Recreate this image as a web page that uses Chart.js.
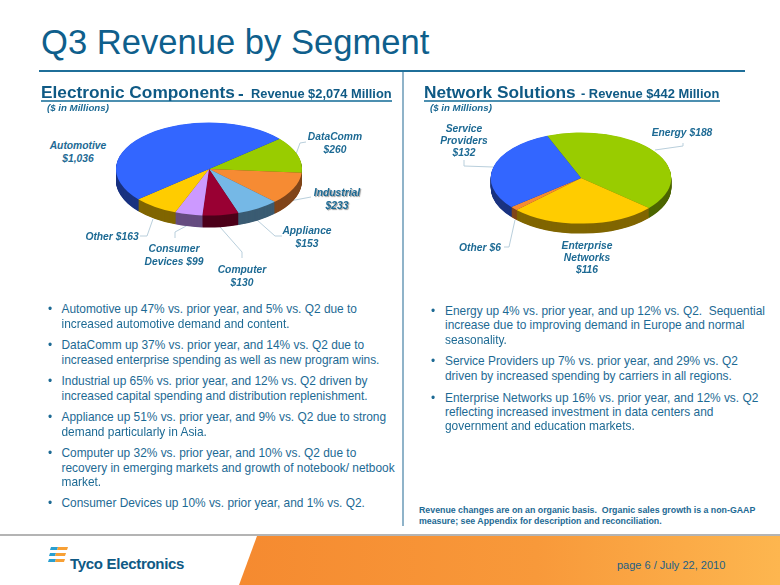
<!DOCTYPE html>
<html><head><meta charset="utf-8">
<script src="https://cdn.jsdelivr.net/npm/chart.js@4/dist/chart.umd.min.js"></script>
<style>
html,body{margin:0;padding:0;background:#fff}
#page{position:relative;width:780px;height:585px;overflow:hidden;font-family:"Liberation Sans",Arial,sans-serif;color:#1d6a94}
#page div.t{position:absolute;white-space:pre;line-height:1}
canvas{position:absolute}
svg{position:absolute;left:0;top:0}
</style></head><body>
<div id="page">
<svg width="780" height="585" id="art">
 <defs><linearGradient id="og" x1="0" x2="1" y1="0" y2="0"><stop offset="0" stop-color="#f58a30"/><stop offset="0.55" stop-color="#f8993a"/><stop offset="1" stop-color="#fdb64f"/></linearGradient></defs>
 <rect x="39" y="70" width="706" height="2" fill="#1f6f99"/>
 <rect x="402" y="72" width="2" height="454" fill="#8fb3c9"/>
 <rect x="0" y="534" width="780" height="2" fill="#b4b4b4"/>
 <polygon points="257,536 780,536 780,585 239,585" fill="url(#og)"/>
 <rect x="41" y="100" width="351" height="2" fill="#4c8fb0"/>
 <rect x="424" y="100" width="296" height="2" fill="#4c8fb0"/>
 <g fill="#2a9fd0">
  <polygon points="51,547 58,547 57,550 50,550"/><polygon points="50,553 56,553 55,556 49,556"/><polygon points="49,559 56,559 55,562 48,562"/>
 </g>
 <g fill="#f7a035">
  <polygon points="58,547 68,547 67,550 57,550"/><polygon points="56,553 66,553 65,556 55,556"/><polygon points="56,559 65,559 64,562 55,562"/>
 </g>
 <g id="leaders" fill="none" stroke="#b9cfdc" stroke-width="1"></g>
</svg>
<canvas id="pieA" width="200" height="200" style="left:109px;top:69px;width:200px;height:200px"></canvas>
<canvas id="pieB" width="200" height="200" style="left:481px;top:78px;width:200px;height:200px"></canvas>
</div>
<script>
const ecCategories = ['DataComm','Industrial','Appliance','Computer','Consumer Devices','Other','Automotive'];
const ecValues = [260,233,153,130,99,163,1036];
const ecColors = ['#99cc00','#f68b33','#75b8e6','#990033','#cc99ff','#ffcc00','#3366ff'];
const ecSides = ['#4d6600','#80451a','#3b5c73','#4d001a','#664d80','#806600','#1a3380'];
const nsCategories = ['Energy','Enterprise Networks','Other','Service Providers'];
const nsValues = [188,116,6,132];
const nsColors = ['#99cc00','#ffcc00','#f68b33','#3366ff'];
const nsSides = ['#4d6600','#806600','#80451a','#1a3380'];

const page = document.getElementById('page');
function text(str, x, y, css, anchor) {
  const d = document.createElement('div');
  d.className = 't';
  d.textContent = str;
  d.style.cssText = 'left:'+x+'px;top:'+y+'px;'+css+(anchor==='c'?';transform:translate(-50%,-50%)':';transform:translateY(-50%)');
  page.appendChild(d);
}
text('Q3 Revenue by Segment', 41, 42, 'font-size:34.6px;color:#0f5f8c');
const hb='font-weight:bold;color:#0f5a85;';
text('Electronic Components', 41, 93, hb+'font-size:17.3px');
text('-', 238, 93, hb+'font-size:17px');
text('Revenue $2,074 Million', 251, 94, hb+'font-size:12.85px');
text('Network Solutions', 424, 93, hb+'font-size:17.3px');
text('- Revenue $442 Million', 581, 94, hb+'font-size:12.9px');
const unit='font-weight:bold;font-style:italic;font-size:9.7px;color:#1d6a94';
text('($ in Millions)', 47, 108, unit);
text('($ in Millions)', 430, 108, unit);

const lab='font-weight:bold;font-style:italic;font-size:10.3px;color:#1d6a94';
[['Automotive',78,146],['$1,036',78,159],['DataComm',335,137],['$260',335,150],
 ['Industrial',337,193],['$233',337,206],['Appliance',307,231],['$153',307,244],
 ['Other $163',112,237],['Consumer',174,249],['Devices $99',174,262],['Computer',242,270],['$130',242,283],
 ['Service',464,129],['Providers',464,141],['$132',464,153],['Energy $188',682,133],['Other $6',480,248],
 ['Enterprise',587,246],['Networks',587,258],['$116',587,270]
].forEach(l=>text(l[0],l[1],l[2],lab+(l[0]==='Industrial'||l[0]==='$233'?';text-shadow:1px 1px 1px #999':''),'c'));

const bodyCss='font-size:11.9px;color:#1d6a94';
[['Automotive up 47% vs. prior year, and 5% vs. Q2 due to',310,1],['increased automotive demand and content.',324.5],
 ['DataComm up 37% vs. prior year, and 14% vs. Q2 due to',346,1],['increased enterprise spending as well as new program wins.',360.5],
 ['Industrial up 65% vs. prior year, and 12% vs. Q2 driven by',382,1],['increased capital spending and distribution replenishment.',396.5],
 ['Appliance up 51% vs. prior year, and 9% vs. Q2 due to strong',418,1],['demand particularly in Asia.',432.5],
 ['Computer up 32% vs. prior year, and 10% vs. Q2 due to',454,1],['recovery in emerging markets and growth of notebook/ netbook',468.5],['market.',482.5],
 ['Consumer Devices up 10% vs. prior year, and 1% vs. Q2.',504,1]
].forEach(l=>{text(l[0],61.5,l[1],bodyCss); if(l[2]) text('•',48,l[1],bodyCss);});
[['Energy up 4% vs. prior year, and up 12% vs. Q2.  Sequential',312,1],['increase due to improving demand in Europe and normal',326],['seasonality.',340.5],
 ['Service Providers up 7% vs. prior year, and 29% vs. Q2',362,1],['driven by increased spending by carriers in all regions.',376.5],
 ['Enterprise Networks up 16% vs. prior year, and 12% vs. Q2',398.5,1],['reflecting increased investment in data centers and',412.5],['government and education markets.',426.5]
].forEach(l=>{text(l[0],445,l[1],bodyCss); if(l[2]) text('•',431,l[1],bodyCss);});

const fn='font-weight:bold;font-size:8.8px;color:#1d6a94';
text('Revenue changes are on an organic basis.  Organic sales growth is a non-GAAP',419,510,fn);
text('measure; see Appendix for description and reconciliation.',419,520.5,fn);
text('Tyco Electronics',70,563,'font-weight:bold;font-size:15px;letter-spacing:-.3px;color:#0f5a85');
text('page 6 / July 22, 2010',617,565,'font-size:11px;color:#1d5f85');

const leaderPaths=['295,157 300,143 306,142','278,202 295,200 311,197','257,220 275,236 282,236','220,227 242,252 242,258',
 '188,225 175,232 175,238','153,219 147,236 140,236','655,150 683,146 683,143','493,167 464,166 464,160','515,220 509,247 504,247'];
const lg=document.getElementById('leaders');
leaderPaths.forEach(p=>{const e=document.createElementNS('http://www.w3.org/2000/svg','polyline');e.setAttribute('points',p);lg.appendChild(e);});

const tilt3d={id:'tilt3d',
  beforeDatasetsDraw(chart,args,opts){
    const ctx=chart.ctx,a=chart.chartArea,cx=(a.left+a.right)/2,cy=(a.top+a.bottom)/2,arcs=chart.getDatasetMeta(0).data;
    ctx.save();
    ctx.translate(cx,cy);ctx.scale(1,opts.k);ctx.translate(-cx,-cy);
    for(let d=opts.depth;d>0;d-=0.5){
      ctx.save();ctx.translate(0,d/opts.k);
      arcs.forEach((arc,i)=>{
        const o=arc.options,c=Object.create(o);
        c.backgroundColor=opts.sides[i];
        arc.options=c;arc.draw(ctx);arc.options=o;
      });
      ctx.restore();
    }
  },
  afterDatasetsDraw(chart){chart.ctx.restore();}
};
function pie(id,labels,values,colors,sides,rotation,pad,k,depth){
  new Chart(document.getElementById(id),{type:'pie',plugins:[tilt3d],
    data:{labels,datasets:[{data:values,backgroundColor:colors,borderWidth:0,clip:false}]},
    options:{responsive:false,animation:false,rotation,layout:{padding:pad},
      plugins:{legend:{display:false},tooltip:{enabled:false},tilt3d:{k,depth,sides}}}});
}
pie('pieA',ecCategories,ecValues,ecColors,ecSides,49.4,7,0.5,12);
pie('pieB',nsCategories,nsValues,nsColors,nsSides,-22,9.7,0.505,10);
</script>
</body></html>
